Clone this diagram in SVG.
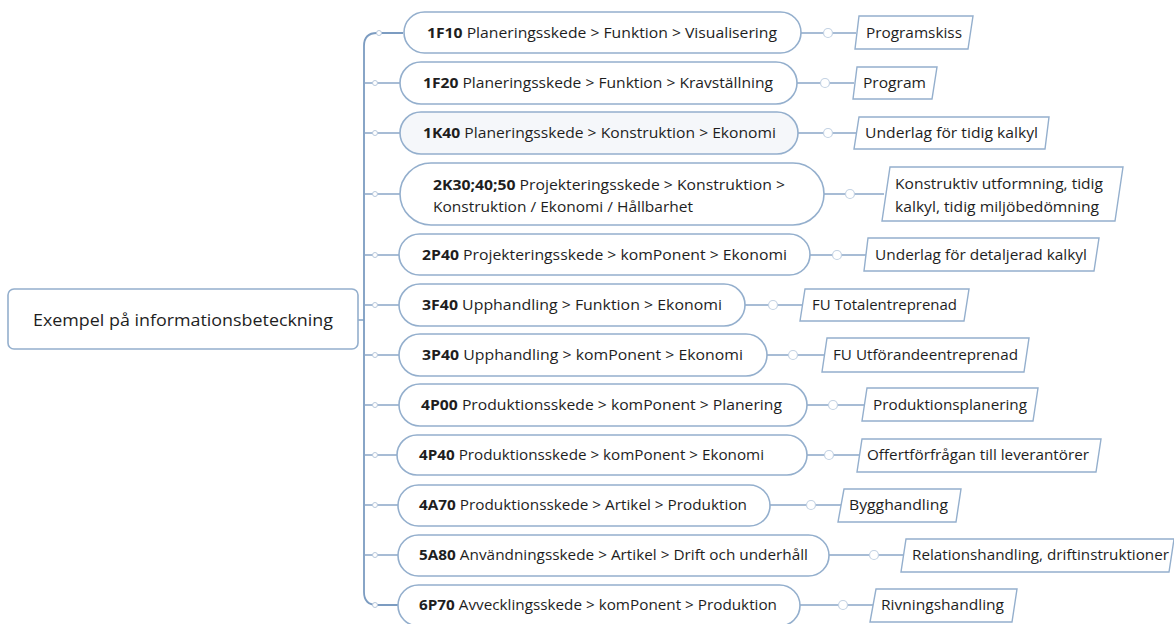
<svg xmlns="http://www.w3.org/2000/svg" width="1174" height="624" viewBox="0 0 1174 624">
<style>
.n{fill:#fff;stroke:#94afcd;stroke-width:1.6}
.r{fill:#fff;stroke:#94afcd;stroke-width:1.6}
.l{fill:#fff;stroke:#94afcd;stroke-width:1.4}
.c{fill:none;stroke:#8aa7c8;stroke-width:1.6}
.t{stroke:#7c9cc1;stroke-width:1.8;fill:none}
.d{fill:#fff;stroke:#c3d2e3;stroke-width:1.2}
.s{fill:#fff;stroke:#b7c8dc;stroke-width:1}
text{font-family:"Open Sans","Noto Sans","DejaVu Sans",sans-serif;font-size:14px;fill:#1e1e1e}
.b{font-weight:bold}
</style>
<g id="connectors">
<path class="c" d="M358,320 H364"/>
<path class="t" d="M403,33 H377 Q364,33 364,46 V592 Q364,605 377,605 H398"/>
<path class="c" d="M364,83 H400 M364,133 H400 M364,194 H400 M364,255 H399 M364,305 H399 M364,355 H399 M364,405 H399 M364,455 H397 M364,505 H398 M364,555 H398"/>
<g>
<circle class="s" cx="379" cy="33" r="2.5"/><circle class="s" cx="375" cy="83" r="2.5"/><circle class="s" cx="375" cy="133" r="2.5"/><circle class="s" cx="375" cy="194" r="2.5"/><circle class="s" cx="375" cy="255" r="2.5"/><circle class="s" cx="375" cy="305" r="2.5"/><circle class="s" cx="375" cy="355" r="2.5"/><circle class="s" cx="375" cy="405" r="2.5"/><circle class="s" cx="375" cy="455" r="2.5"/><circle class="s" cx="375" cy="505" r="2.5"/><circle class="s" cx="375" cy="555" r="2.5"/><circle class="s" cx="375" cy="605" r="2.5"/>
</g>
<path class="c" d="M801,33 H856 M797,83 H854 M798,133 H856 M824,194 H884 M810,255 H866 M745,305 H803 M767,355 H825 M807,405 H865 M807,455 H860 M770,505 H841 M829,555 H904 M800,605 H873"/>
<g>
<circle class="d" cx="828" cy="33" r="4.5"/><circle class="d" cx="825" cy="83" r="4.5"/><circle class="d" cx="828" cy="133" r="4.5"/><circle class="d" cx="850" cy="194" r="4.5"/><circle class="d" cx="837" cy="255" r="4.5"/><circle class="d" cx="773" cy="305" r="4.5"/><circle class="d" cx="793" cy="355" r="4.5"/><circle class="d" cx="833" cy="405" r="4.5"/><circle class="d" cx="829" cy="455" r="4.5"/><circle class="d" cx="811" cy="505" r="4.5"/><circle class="d" cx="874" cy="555" r="4.5"/><circle class="d" cx="843" cy="605" r="4.5"/>
</g>
</g>
<g id="root">
<rect class="r" x="8" y="289" width="350" height="60" rx="6"/>
<text x="33" y="326" style="font-size:17px" textLength="300" lengthAdjust="spacingAndGlyphs">Exempel på informationsbeteckning</text>
</g>
<g id="n1"><rect class="n" x="404" y="12" width="397" height="41" rx="20.5"/><text x="427" y="38" textLength="350" lengthAdjust="spacingAndGlyphs"><tspan class="b">1F10</tspan> Planeringsskede &gt; Funktion &gt; Visualisering</text></g>
<g id="n2"><rect class="n" x="400" y="62" width="397" height="42" rx="21"/><text x="423" y="88" textLength="350" lengthAdjust="spacingAndGlyphs"><tspan class="b">1F20</tspan> Planeringsskede &gt; Funktion &gt; Kravställning</text></g>
<g id="n3"><rect class="n" x="400" y="112" width="398" height="42" rx="21" style="fill:#f5f7fa"/><text x="423" y="138" textLength="353" lengthAdjust="spacingAndGlyphs"><tspan class="b">1K40</tspan> Planeringsskede &gt; Konstruktion &gt; Ekonomi</text></g>
<g id="n4"><rect class="n" x="400" y="163" width="424" height="62" rx="31"/><text x="433" y="190" textLength="352" lengthAdjust="spacingAndGlyphs"><tspan class="b">2K30;40;50</tspan> Projekteringsskede &gt; Konstruktion &gt;</text><text x="433" y="212" textLength="260" lengthAdjust="spacingAndGlyphs">Konstruktion / Ekonomi / Hållbarhet</text></g>
<g id="n5"><rect class="n" x="399" y="234" width="411" height="41" rx="20.5"/><text x="422" y="260" textLength="365" lengthAdjust="spacingAndGlyphs"><tspan class="b">2P40</tspan> Projekteringsskede &gt; komPonent &gt; Ekonomi</text></g>
<g id="n6"><rect class="n" x="399" y="284" width="346" height="42" rx="21"/><text x="422" y="310" textLength="300" lengthAdjust="spacingAndGlyphs"><tspan class="b">3F40</tspan> Upphandling &gt; Funktion &gt; Ekonomi</text></g>
<g id="n7"><rect class="n" x="399" y="334" width="368" height="42" rx="21"/><text x="422" y="360" textLength="321" lengthAdjust="spacingAndGlyphs"><tspan class="b">3P40</tspan> Upphandling &gt; komPonent &gt; Ekonomi</text></g>
<g id="n8"><rect class="n" x="399" y="384" width="408" height="42" rx="21"/><text x="421" y="410" textLength="361" lengthAdjust="spacingAndGlyphs"><tspan class="b">4P00</tspan> Produktionsskede &gt; komPonent &gt; Planering</text></g>
<g id="n9"><rect class="n" x="397" y="435" width="410" height="40" rx="20"/><text x="419" y="460" textLength="345" lengthAdjust="spacingAndGlyphs"><tspan class="b">4P40</tspan> Produktionsskede &gt; komPonent &gt; Ekonomi</text></g>
<g id="n10"><rect class="n" x="398" y="485" width="372" height="41" rx="20.5"/><text x="419" y="510" textLength="328" lengthAdjust="spacingAndGlyphs"><tspan class="b">4A70</tspan> Produktionsskede &gt; Artikel &gt; Produktion</text></g>
<g id="n11"><rect class="n" x="398" y="535" width="431" height="41" rx="20.5"/><text x="419" y="560" textLength="389" lengthAdjust="spacingAndGlyphs"><tspan class="b">5A80</tspan> Användningsskede &gt; Artikel &gt; Drift och underhåll</text></g>
<g id="n12"><rect class="n" x="398" y="585" width="402" height="41" rx="20.5"/><text x="419" y="610" textLength="358" lengthAdjust="spacingAndGlyphs"><tspan class="b">6P70</tspan> Avvecklingsskede &gt; komPonent &gt; Produktion</text></g>
<g id="l1"><path class="l" d="M859,16 H973 L968,49 H855 Z"/><text x="866" y="38" textLength="96" lengthAdjust="spacingAndGlyphs">Programskiss</text></g>
<g id="l2"><path class="l" d="M857,67 H937 L932,99 H853 Z"/><text x="863" y="88" textLength="63" lengthAdjust="spacingAndGlyphs">Program</text></g>
<g id="l3"><path class="l" d="M859,117 H1049 L1045,149 H854 Z"/><text x="865" y="138" textLength="173" lengthAdjust="spacingAndGlyphs">Underlag för tidig kalkyl</text></g>
<g id="l4"><path class="l" d="M890,167 H1123 L1115,221 H882 Z"/><text x="895" y="189" textLength="208" lengthAdjust="spacingAndGlyphs">Konstruktiv utformning, tidig</text><text x="895" y="212" textLength="204" lengthAdjust="spacingAndGlyphs">kalkyl, tidig miljöbedömning</text></g>
<g id="l5"><path class="l" d="M868,238 H1099 L1094,271 H864 Z"/><text x="875" y="260" textLength="212" lengthAdjust="spacingAndGlyphs">Underlag för detaljerad kalkyl</text></g>
<g id="l6"><path class="l" d="M805,289 H969 L964,321 H800 Z"/><text x="812" y="310" textLength="145" lengthAdjust="spacingAndGlyphs">FU Totalentreprenad</text></g>
<g id="l7"><path class="l" d="M827,338 H1029 L1024,372 H822 Z"/><text x="833" y="360" textLength="185" lengthAdjust="spacingAndGlyphs">FU Utförandeentreprenad</text></g>
<g id="l8"><path class="l" d="M867,388 H1038 L1033,421 H862 Z"/><text x="873" y="410" textLength="154" lengthAdjust="spacingAndGlyphs">Produktionsplanering</text></g>
<g id="l9"><path class="l" d="M862,439 H1101 L1096,472 H857 Z"/><text x="867" y="460" textLength="222" lengthAdjust="spacingAndGlyphs">Offertförfrågan till leverantörer</text></g>
<g id="l10"><path class="l" d="M844,489 H961 L956,522 H838 Z"/><text x="849" y="510" textLength="99" lengthAdjust="spacingAndGlyphs">Bygghandling</text></g>
<g id="l11"><path class="l" d="M906,539 H1174 L1169,572 H901 Z"/><text x="912" y="560" textLength="257" lengthAdjust="spacingAndGlyphs">Relationshandling, driftinstruktioner</text></g>
<g id="l12"><path class="l" d="M876,589 H1017 L1012,622 H870 Z"/><text x="881" y="610" textLength="123" lengthAdjust="spacingAndGlyphs">Rivningshandling</text></g>
</svg>
